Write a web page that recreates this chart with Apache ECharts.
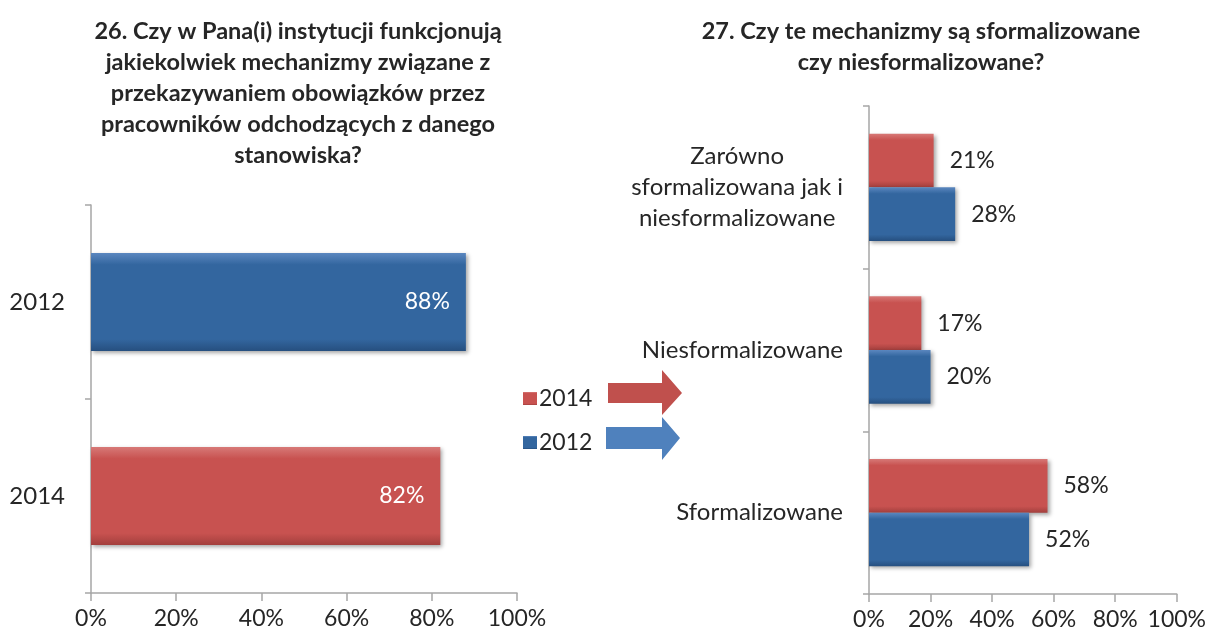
<!DOCTYPE html>
<html>
<head>
<meta charset="utf-8">
<script src="https://cdn.jsdelivr.net/npm/echarts@6/dist/echarts.min.js"></script>
<style>
  html, body { margin: 0; padding: 0; background: #fff; }
  #chart { width: 1209px; height: 637px; }
</style>
</head>
<body>
<div id="chart"></div>
<script>
// lewy wykres (pytanie 26)
var leftYears = ['2014', '2012'];
var leftValues = [82, 88];
// prawy wykres (pytanie 27)
var rightCats = ['Sformalizowane', 'Niesformalizowane', 'Zarówno\nsformalizowana jak i\nniesformalizowane'];
var vals2014 = [58, 17, 21];
var vals2012 = [52, 20, 28];
var pctTicks = [0, 20, 40, 60, 80, 100];

var TXT = '#262626', AXIS = '#a6a6a6';
var FONT = 'Lato';
var FS = 23;

// lekki efekt fazowania jak w Excelu
function bevel(light, base, dark) {
    return new echarts.graphic.LinearGradient(0, 0, 0, 1, [
        { offset: 0, color: light }, { offset: 0.12, color: base },
        { offset: 0.88, color: base }, { offset: 1, color: dark }
    ]);
}
var RED = bevel('#d77977', '#c85250', '#a33f3d');
var BLUE = bevel('#5b87bf', '#33669f', '#264f7f');

var shadow = { shadowBlur: 4, shadowOffsetX: 2, shadowOffsetY: 2, shadowColor: 'rgba(0,0,0,0.35)' };

function valueAxis(idx) {
    return {
        type: 'value', gridIndex: idx, min: 0, max: 100, interval: 20,
        axisLine: { show: true, lineStyle: { color: AXIS, width: 1.5 } },
        axisTick: { show: true, length: 8, lineStyle: { color: AXIS, width: 1.5 } },
        splitLine: { show: false },
        axisLabel: { color: TXT, fontSize: FS, fontFamily: FONT, margin: 14,
            formatter: function (v) { return pctTicks.indexOf(v) >= 0 ? v + '%' : ''; } }
    };
}
function catAxis(idx, data) {
    return {
        type: 'category', gridIndex: idx, data: data,
        axisLine: { show: true, lineStyle: { color: AXIS, width: 1.5 } },
        axisTick: { show: true, length: 6, lineStyle: { color: AXIS, width: 1.5 } },
        axisLabel: {
            color: TXT, fontSize: 24, fontFamily: FONT, margin: 26,
            formatter: function (v) {
                return v.split('\n').map(function (s) { return '{c|' + s + '}'; }).join('\n');
            },
            rich: { c: { align: 'center', fontSize: 24, fontFamily: FONT, color: TXT, lineHeight: 31 } }
        }
    };
}
function barLabel(color, pos) {
    return { show: true, position: pos, distance: 16, color: color,
        fontSize: FS, fontFamily: FONT, formatter: '{c}%' };
}

var chart = echarts.init(document.getElementById('chart'));
chart.setOption({
    animation: false,
    backgroundColor: '#fff',
    color: ['#c85250', '#33669f'],
    grid: [
        { left: 91, right: 692, top: 205, bottom: 44 },
        { left: 869, right: 31, top: 106, bottom: 43 }
    ],
    xAxis: [valueAxis(0), valueAxis(1)],
    yAxis: [catAxis(0, leftYears), catAxis(1, rightCats)],
    legend: {
        orient: 'vertical', left: 518, top: 382, itemGap: 21,
        itemWidth: 14, itemHeight: 13, icon: 'rect',
        textStyle: { color: TXT, fontSize: FS, fontFamily: FONT, padding: [0, 0, 0, -3] },
        data: ['2014', '2012']
    },
    series: [
        {
            name: 'p26', type: 'bar', xAxisIndex: 0, yAxisIndex: 0, barWidth: 98,
            data: leftValues.map(function (v, i) {
                return { value: v, itemStyle: { color: i === 0 ? RED : BLUE } };
            }),
            itemStyle: shadow,
            label: barLabel('#fff', 'insideRight')
        },
        {
            name: '2014', type: 'bar', xAxisIndex: 1, yAxisIndex: 1, data: vals2014,
            barGap: '0%', barCategoryGap: '34%',
            itemStyle: Object.assign({ color: RED }, shadow),
            label: barLabel(TXT, 'right')
        },
        {
            name: '2012', type: 'bar', xAxisIndex: 1, yAxisIndex: 1, data: vals2012,
            barGap: '0%', barCategoryGap: '34%',
            itemStyle: Object.assign({ color: BLUE }, shadow),
            label: barLabel(TXT, 'right')
        }
    ],
    graphic: [
        { type: 'text', x: 298, y: 16, style: {
            text: '26. Czy w Pana(i) instytucji funkcjonują\njakiekolwiek mechanizmy związane z\nprzekazywaniem obowiązków przez\npracowników odchodzących z danego\nstanowiska?',
            align: 'center', fill: TXT, font: 'bold 23.5px Lato', lineHeight: 31 } },
        { type: 'text', x: 921, y: 16, style: {
            text: '27. Czy te mechanizmy są sformalizowane\nczy niesformalizowane?',
            align: 'center', fill: TXT, font: 'bold 23.5px Lato', lineHeight: 31 } },
        // strzałki przy legendzie
        { type: 'polygon', shape: { points: [[608, 383], [662, 383], [662, 370], [682, 393], [662, 415], [662, 403], [608, 403]] },
          style: { fill: '#c0504d' } },
        { type: 'polygon', shape: { points: [[606, 427], [662, 427], [662, 417], [680, 438], [662, 460], [662, 449], [606, 449]] },
          style: { fill: '#4f81bd' } }
    ]
});
</script>
</body>
</html>
